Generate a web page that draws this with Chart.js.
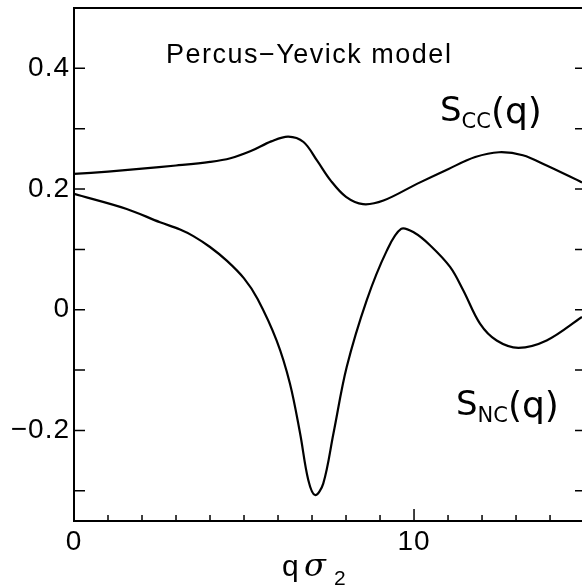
<!DOCTYPE html>
<html>
<head>
<meta charset="utf-8">
<script src="https://cdn.jsdelivr.net/npm/chart.js@4.4.1/dist/chart.umd.min.js"></script>
<style>
  html, body { margin: 0; padding: 0; background: #fff; }
  #wrap { width: 582px; height: 586px; }
</style>
</head>
<body>
<div id="wrap"><canvas id="c" width="582" height="586"></canvas></div>
<script>
// ---- data ----
const qCC = [0, 1, 2, 3, 4, 4.6, 5.2, 5.8, 6.3, 6.75, 7.15, 7.55, 8.0, 8.5, 9.1, 10.1, 11.0, 11.8, 12.5, 13.2, 13.9, 14.94];
const sCC = [0.225, 0.229, 0.234, 0.239, 0.245, 0.251, 0.263, 0.279, 0.287, 0.278, 0.247, 0.214, 0.187, 0.175, 0.181, 0.209, 0.233, 0.253, 0.261, 0.256, 0.239, 0.211];
const qNC = [0, 1.55, 2.53, 3.12, 3.51, 4.0, 4.5, 5.0, 5.4, 5.96, 6.35, 6.65, 6.89, 7.09, 7.33, 7.63, 8.02, 8.61, 9.2, 9.62, 10.0, 10.47, 11.06, 11.45, 11.94, 12.43, 13.07, 13.9, 14.94];
const sNC = [0.192, 0.167, 0.145, 0.133, 0.122, 0.104, 0.081, 0.052, 0.018, -0.051, -0.122, -0.205, -0.282, -0.307, -0.288, -0.205, -0.095, 0.016, 0.098, 0.134, 0.128, 0.107, 0.071, 0.032, -0.023, -0.051, -0.063, -0.051, -0.012];

const xTickLabels = [0, 10];
const yTickLabels = [-0.2, 0, 0.2, 0.4];
const xMinorTicks = [1, 2, 3, 4, 5, 6, 7, 8, 9, 11, 12, 13, 14];
const xMajorTicks = [10];
const yMinorTicks = [-0.3, -0.2, -0.1, 0, 0.1, 0.2, 0.3, 0.4];
const xRange = [0, 14.94];
const yRange = [-0.35, 0.5];

const toPts = (xs, ys) => xs.map((x, i) => ({ x: x, y: ys[i] }));

function fmtY(v) {
  const m = yTickLabels.find(t => Math.abs(t - v) < 1e-6);
  if (m === undefined) return '';
  if (m === 0) return '0';
  return (m < 0 ? '\u2212' : '') + Math.abs(m).toFixed(1);
}

const decor = {
  id: 'decor',
  beforeDraw(chart) {
    chart.ctx.letterSpacing = '1px';
  },
  afterDraw(chart) {
    const ctx = chart.ctx;
    const xs = chart.scales.x, ys = chart.scales.y;
    const a = chart.chartArea;
    ctx.save();
    ctx.strokeStyle = '#000';
    ctx.fillStyle = '#000';
    ctx.lineWidth = 2;
    // top border
    ctx.beginPath();
    ctx.moveTo(a.left - 1, a.top); ctx.lineTo(a.right, a.top);
    ctx.stroke();
    // inward y ticks (left and right)
    ctx.lineWidth = 1.5;
    yMinorTicks.forEach(v => {
      const py = ys.getPixelForValue(v);
      ctx.beginPath();
      ctx.moveTo(a.left, py); ctx.lineTo(a.left + 11, py);
      ctx.moveTo(a.right + 2, py); ctx.lineTo(a.right - 7, py);
      ctx.stroke();
    });
    // inward x ticks
    xMinorTicks.forEach(v => {
      const px = xs.getPixelForValue(v);
      ctx.beginPath();
      ctx.moveTo(px, a.bottom); ctx.lineTo(px, a.bottom - 6);
      ctx.stroke();
    });
    xMajorTicks.forEach(v => {
      const px = xs.getPixelForValue(v);
      ctx.beginPath();
      ctx.moveTo(px, a.bottom); ctx.lineTo(px, a.bottom - 12);
      ctx.stroke();
    });
    ctx.textBaseline = 'alphabetic';
    ctx.textAlign = 'left';
    // model label
    ctx.letterSpacing = '1.5px';
    ctx.font = '27px "Liberation Sans"';
    ctx.fillText('Percus\u2212Yevick model', 166, 63);
    // curve labels
    ctx.letterSpacing = '0px';
    function seriesLabel(x, y, sub) {
      ctx.font = '34px "DejaVu Sans"';
      ctx.fillText('S', x, y);
      let w = ctx.measureText('S').width;
      ctx.font = '21px "DejaVu Sans"';
      ctx.fillText(sub, x + w, y + 7);
      w += ctx.measureText(sub).width;
      ctx.font = '36px "DejaVu Sans"';
      ctx.fillText('(q)', x + w, y + 2);
    }
    seriesLabel(440, 121, 'CC');
    seriesLabel(456, 415, 'NC');
    // x axis title
    ctx.font = '30px "Liberation Sans"';
    ctx.fillText('q', 282, 576);
    ctx.font = 'italic 32px "DejaVu Serif"';
    ctx.fillText('\u03c3', 304, 576);
    ctx.font = '21px "Liberation Sans"';
    ctx.fillText('2', 334, 585);
    ctx.restore();
  }
};

new Chart(document.getElementById('c'), {
  type: 'scatter',
  data: {
    datasets: [
      { label: 'S_CC(q)', data: toPts(qCC, sCC), showLine: true, borderColor: '#000', borderWidth: 2.2, pointRadius: 0, tension: 0.35, fill: false },
      { label: 'S_NC(q)', data: toPts(qNC, sNC), showLine: true, borderColor: '#000', borderWidth: 2.2, pointRadius: 0, tension: 0.35, fill: false }
    ]
  },
  options: {
    responsive: false,
    animation: false,
    layout: { padding: { top: 8, right: 0, left: 0, bottom: 0 } },
    plugins: { legend: { display: false }, tooltip: { enabled: false } },
    scales: {
      x: {
        type: 'linear', min: xRange[0], max: xRange[1],
        afterFit: s => { s.height = 65; s.paddingLeft = 0; s.paddingRight = 0; },
        grid: { display: false, drawTicks: false },
        border: { display: true, color: '#000', width: 2 },
        ticks: {
          stepSize: 1, autoSkip: false, maxRotation: 0, padding: 4, color: '#000',
          font: { family: 'Liberation Sans', size: 28 },
          callback: v => (xTickLabels.includes(v) ? String(v) : '')
        }
      },
      y: {
        type: 'linear', min: yRange[0], max: yRange[1],
        afterFit: s => { s.width = 74; s.paddingTop = 0; s.paddingBottom = 0; },
        grid: { display: false, drawTicks: false },
        border: { display: true, color: '#000', width: 2 },
        ticks: {
          stepSize: 0.1, autoSkip: false, padding: 4, color: '#000',
          font: { family: 'Liberation Sans', size: 28 },
          callback: v => fmtY(v)
        }
      }
    }
  },
  plugins: [decor]
});
</script>
</body>
</html>
